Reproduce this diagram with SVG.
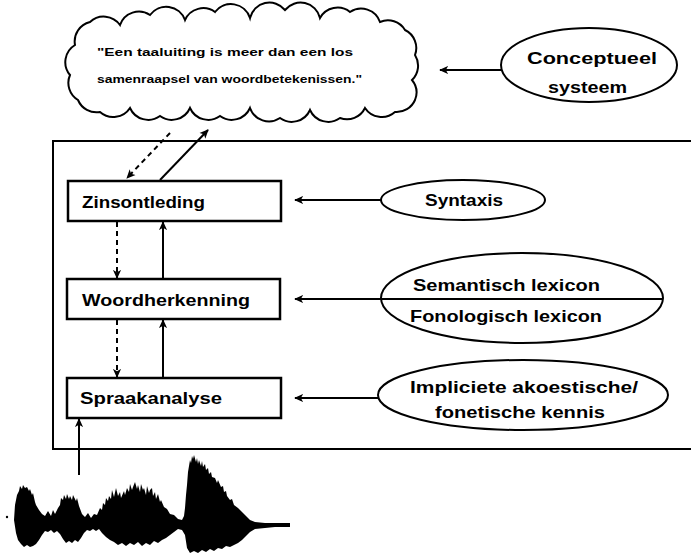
<svg xmlns="http://www.w3.org/2000/svg" width="691" height="553" viewBox="0 0 691 553">
<defs>
<marker id="ah" viewBox="0 0 10 10" refX="9" refY="5" markerWidth="9" markerHeight="9" markerUnits="userSpaceOnUse" orient="auto">
<path d="M0,0.5 L10,5 L0,9.5 L2.5,5 Z" fill="#000"/>
</marker>
<style>
.t{font-family:"Liberation Sans",Arial,sans-serif;font-weight:bold;fill:#000}
.lbl{font-size:17px}
.sm{font-size:11.5px}
.box{fill:#fff;stroke:#000;stroke-width:2.5}
.ell{fill:#fff;stroke:#000;stroke-width:2}
.ln{fill:none;stroke:#000;stroke-width:2}
.dash{fill:none;stroke:#000;stroke-width:2;stroke-dasharray:5,4}
</style>
</defs>
<rect width="691" height="553" fill="#fff"/>
<path id="frame" d="M700 141 H53 V449 H700" fill="none" stroke="#000" stroke-width="2"/>
<g id="cloud">
<path d="M75 45 A20 20 0 0 1 90 22 A20 20 0 0 1 120 25 A20 20 0 0 1 150 15 A20 20 0 0 1 185 20 A20 20 0 0 1 215 12 A20 20 0 0 1 250 18 A20 20 0 0 1 285 10 A20 20 0 0 1 320 18 A20 20 0 0 1 350 12 A20 20 0 0 1 380 22 A20 20 0 0 1 405 30 A20 20 0 0 1 415 55 A20 20 0 0 1 412 80 A20 20 0 0 1 415 100 A20 20 0 0 1 395 112 A20 20 0 0 1 365 108 A20 20 0 0 1 340 118 A20 20 0 0 1 310 110 A20 20 0 0 1 280 118 A20 20 0 0 1 250 108 A20 20 0 0 1 220 116 A20 20 0 0 1 190 108 A20 20 0 0 1 160 116 A20 20 0 0 1 130 108 A20 20 0 0 1 100 112 A20 20 0 0 1 78 100 A20 20 0 0 1 70 75 A20 20 0 0 1 75 45 Z" fill="#fff" stroke="#000" stroke-width="2"/>
<text class="t sm" x="97" y="56" textLength="256" lengthAdjust="spacingAndGlyphs">"Een taaluiting is meer dan een los</text>
<text class="t sm" x="97" y="83" textLength="265" lengthAdjust="spacingAndGlyphs">samenraapsel van woordbetekenissen."</text>
</g>
<g id="conceptueel">
<ellipse class="ell" cx="589" cy="65" rx="88" ry="37"/>
<text class="t lbl" x="527" y="64" textLength="130" lengthAdjust="spacingAndGlyphs">Conceptueel</text>
<text class="t lbl" x="548" y="93" textLength="79" lengthAdjust="spacingAndGlyphs">systeem</text>
</g>
<g id="zinsontleding">
<rect class="box" x="68" y="181" width="213" height="40"/>
<text class="t lbl" x="82" y="208" textLength="123" lengthAdjust="spacingAndGlyphs">Zinsontleding</text>
</g>
<g id="woordherkenning">
<rect class="box" x="67" y="279" width="213" height="40"/>
<text class="t lbl" x="82" y="306" textLength="168" lengthAdjust="spacingAndGlyphs">Woordherkenning</text>
</g>
<g id="spraakanalyse">
<rect class="box" x="67" y="378" width="214" height="40"/>
<text class="t lbl" x="80" y="404" textLength="142" lengthAdjust="spacingAndGlyphs">Spraakanalyse</text>
</g>
<g id="syntaxis">
<ellipse class="ell" cx="463" cy="200" rx="82" ry="20"/>
<text class="t lbl" x="425" y="206" textLength="78" lengthAdjust="spacingAndGlyphs">Syntaxis</text>
</g>
<g id="lexicon">
<ellipse class="ell" cx="522" cy="298" rx="141" ry="45"/>
<line x1="381" y1="299" x2="662" y2="299" stroke="#000" stroke-width="2"/>
<text class="t lbl" x="413" y="291" textLength="187" lengthAdjust="spacingAndGlyphs">Semantisch lexicon</text>
<text class="t lbl" x="410" y="322" textLength="192" lengthAdjust="spacingAndGlyphs">Fonologisch lexicon</text>
</g>
<g id="kennis">
<ellipse class="ell" cx="523" cy="395" rx="145" ry="35"/>
<text class="t lbl" x="410" y="393" textLength="228" lengthAdjust="spacingAndGlyphs">Impliciete akoestische/</text>
<text class="t lbl" x="435" y="418" textLength="170" lengthAdjust="spacingAndGlyphs">fonetische kennis</text>
</g>
<g id="waveform">
<circle cx="7" cy="517" r="1.2" fill="#000"/>
<path fill="#000" d="M14 520 L15 505 L17 495 L19 491 L20 486 L22 489 L23 485 L25 488 L27 487 L29 491 L30 489 L32 495 L33 493 L35 502 L36 505 L39 510 L42 514 L45 516 L48 511 L51 516 L53 510 L55 514 L58 508 L60 505 L61 498 L63 500 L64 495 L66 499 L67 494 L69 499 L70 496 L72 500 L73 495 L76 501 L77 498 L79 506 L82 514 L85 517 L88 513 L91 518 L94 514 L97 515 L100 508 L102 510 L103 503 L105 505 L106 498 L108 501 L109 496 L111 499 L112 490 L114 497 L116 488 L118 496 L120 492 L121 498 L124 491 L125 495 L127 488 L129 492 L130 484 L132 490 L133 487 L135 482 L137 489 L138 485 L140 492 L141 484 L143 490 L144 488 L146 495 L147 486 L149 493 L150 490 L152 488 L153 496 L155 492 L156 499 L158 494 L160 502 L161 500 L164 507 L167 509 L170 514 L174 515 L178 519 L182 520 L184 516 L185 508 L186 495 L187 485 L188 472 L189 466 L190 460 L191 463 L192 456 L193 459 L194 455 L196 462 L197 458 L198 464 L199 460 L201 466 L202 461 L203 467 L205 464 L206 470 L208 468 L209 474 L211 472 L212 477 L215 478 L217 483 L218 480 L221 487 L223 486 L224 492 L226 491 L227 496 L230 500 L232 499 L234 505 L238 508 L242 512 L246 516 L250 520 L255 522 L265 523 L275 523 L290 523 L290 527 L275 527 L265 528 L255 529 L250 532 L246 536 L242 540 L238 543 L234 545 L230 547 L226 546 L222 549 L218 548 L214 551 L210 549 L206 552 L202 550 L198 553 L194 551 L190 553 L187 548 L185 535 L182 530 L178 529 L174 532 L170 535 L166 538 L162 540 L158 543 L154 541 L150 545 L146 543 L142 546 L138 542 L134 545 L130 543 L126 546 L122 543 L118 545 L114 542 L110 540 L106 537 L102 533 L99 529 L96 531 L93 529 L90 531 L87 530 L84 533 L81 538 L78 542 L75 540 L72 543 L69 541 L66 543 L63 539 L60 534 L57 531 L54 533 L51 530 L48 532 L45 531 L42 535 L39 540 L36 544 L33 546 L30 547 L27 545 L24 547 L21 544 L18 540 L16 533 Z"/>
</g>
<g id="connectors">
<line class="ln" x1="501" y1="70" x2="440" y2="70" marker-end="url(#ah)"/>
<line class="ln" x1="381" y1="200" x2="295" y2="200" marker-end="url(#ah)"/>
<line class="ln" x1="381" y1="299" x2="295" y2="299" marker-end="url(#ah)"/>
<line class="ln" x1="378" y1="398" x2="295" y2="398" marker-end="url(#ah)"/>
<line class="dash" x1="170" y1="133" x2="127" y2="178" marker-end="url(#ah)"/>
<line class="ln" x1="160" y1="180" x2="208" y2="130" marker-end="url(#ah)"/>
<line class="dash" x1="117" y1="222" x2="117" y2="278" marker-end="url(#ah)"/>
<line class="ln" x1="163" y1="279" x2="163" y2="222" marker-end="url(#ah)"/>
<line class="dash" x1="117" y1="320" x2="117" y2="377" marker-end="url(#ah)"/>
<line class="ln" x1="163" y1="378" x2="163" y2="320" marker-end="url(#ah)"/>
<line class="ln" x1="79" y1="475" x2="79" y2="419" marker-end="url(#ah)"/>
</g>
</svg>
